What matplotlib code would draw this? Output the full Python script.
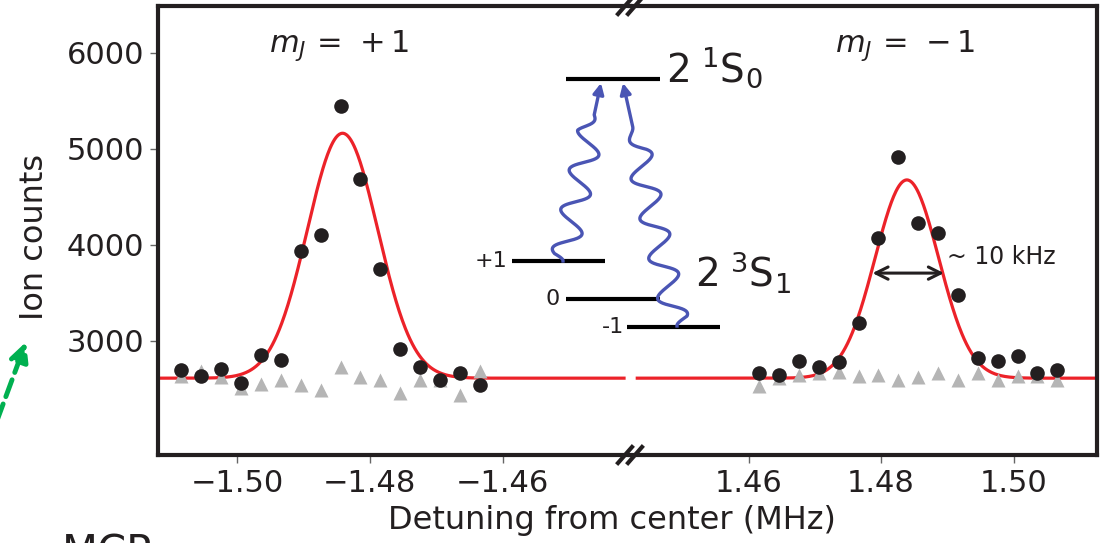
import matplotlib.pyplot as plt
import numpy as np

# ---- data (detuning in MHz, ion counts) ----
x_plus = [-1.5084, -1.5054, -1.5024, -1.4994, -1.4964, -1.4934, -1.4904, -1.4874,
          -1.4844, -1.4814, -1.4784, -1.4754, -1.4724, -1.4694, -1.4664, -1.4634]
counts_plus = [2699, 2629, 2706, 2560, 2854, 2795, 3939, 4102,
               5443, 4687, 3745, 2914, 2722, 2595, 2664, 2543]
bg_plus = [2630, 2681, 2619, 2508, 2553, 2595, 2543, 2483,
           2727, 2619, 2588, 2456, 2595, 2595, 2439, 2681]

x_minus = [1.4616, 1.4646, 1.4676, 1.4706, 1.4736, 1.4766, 1.4796, 1.4826,
           1.4856, 1.4886, 1.4916, 1.4946, 1.4976, 1.5006, 1.5036, 1.5066]
counts_minus = [2664, 2639, 2792, 2722, 2779, 3184, 4074, 4910,
                4224, 4120, 3471, 2820, 2792, 2837, 2664, 2699]
bg_minus = [2525, 2612, 2647, 2664, 2670, 2629, 2639, 2595,
            2622, 2664, 2595, 2664, 2595, 2629, 2636, 2595]

# gaussian fits: (offset, amplitude, centre, sigma)
fit_plus = (2610, 2550, -1.4841, 0.0053)
fit_minus = (2610, 2064, 1.4839, 0.0048)

xticks_plus = [-1.50, -1.48, -1.46]
xticks_minus = [1.46, 1.48, 1.50]
yticks = [3000, 4000, 5000, 6000]

DARK = '#231f20'
RED = '#ec2229'
GRAY = '#b5b5b5'
BLUE = '#4a55b4'


def gauss(x, off, amp, x0, sig):
    return off + amp*np.exp(-(x - x0)**2/(2*sig**2))


def wavy(p0, p1, periods, amp, frac=0.82):
    t = np.linspace(0, 1, 600)
    p0, p1 = np.array(p0, float), np.array(p1, float)
    d = p1 - p0
    u = d/np.hypot(*d)
    nrm = np.array([-u[1], u[0]])
    env = np.clip(t/0.03, 0, 1)*np.clip((frac - t)/0.1, 0, 1)
    off = amp*np.sin(2*np.pi*periods*t/frac)*env
    return p0 + np.outer(t, d) + np.outer(off, nrm)


plt.rcParams['font.family'] = 'DejaVu Sans'
fig = plt.figure(figsize=(11.02, 5.43), dpi=100)
W, H = 1102, 543
x_left, x_break, x_right = 158/W, 630/W, 1097/W
y_bot, y_top = 1 - 455/H, 1 - 6/H
ax1 = fig.add_axes([x_left, y_bot, x_break - x_left, y_top - y_bot])
ax2 = fig.add_axes([x_break, y_bot, x_right - x_break, y_top - y_bot])

ylim = (1810, 6485)
ax1.set_xlim(-1.5119, -1.4408)
ax2.set_xlim(1.4421, 1.5126)

for ax, xs, ys, bg, fit, xt, lim in [
        (ax1, x_plus, counts_plus, bg_plus, fit_plus, xticks_plus, (-1.5119, -1.4417)),
        (ax2, x_minus, counts_minus, bg_minus, fit_minus, xticks_minus, (1.4432, 1.5126))]:
    xf = np.linspace(lim[0], lim[1], 600)
    ax.plot(xf, gauss(xf, *fit), color=RED, lw=2.3, zorder=2)
    ax.plot(xs, bg, '^', color=GRAY, ms=10, mec='none', zorder=3)
    ax.plot(xs, ys, 'o', color=DARK, ms=10.5, mec='none', zorder=4)
    ax.set_ylim(*ylim)
    ax.set_xticks(xt)
    ax.set_xticklabels(['%.2f' % v if v > 0 else '\u2212%.2f' % abs(v) for v in xt])
    for s in ax.spines.values():
        s.set_linewidth(3)
        s.set_color(DARK)
    ax.tick_params(axis='both', direction='out', length=6, width=1, color='#666666',
                   labelsize=22, labelcolor=DARK, pad=4)

ax1.spines['right'].set_visible(False)
ax2.spines['left'].set_visible(False)
ax1.set_yticks(yticks)
ax2.set_yticks([])

ax1.text(0.383, 0.913, r'$m_J\,=\,+1$', transform=ax1.transAxes, fontsize=22,
         ha='center', va='center', color=DARK)
ax2.text(0.589, 0.913, r'$m_J\,=\,-1$', transform=ax2.transAxes, fontsize=22,
         ha='center', va='center', color=DARK)

# FWHM arrow
ax2.annotate('', xy=(1.4787, 3704), xytext=(1.4895, 3704),
             arrowprops=dict(arrowstyle='<->', color=DARK, lw=2.2, mutation_scale=22,
                             shrinkA=0, shrinkB=0), zorder=5)
ax2.text(1.4900, 3870, '~ 10 kHz', fontsize=17, color=DARK, ha='left', va='center')

fig.text(35/W, 1 - 237/H, 'Ion counts', rotation=90, fontsize=23, ha='center',
         va='center', color=DARK)
fig.text(612/W, 1 - 520/H, 'Detuning from center (MHz)', fontsize=23, ha='center',
         va='center', color=DARK)
fig.text(62/W, 1 - 533/H, 'MCP', fontsize=30, ha='left', va='top', color=DARK)

# overlay in pixel units for the level scheme and break marks
ov = fig.add_axes([0, 0, 1, 1], zorder=10)
ov.set_xlim(0, W)
ov.set_ylim(H, 0)
ov.axis('off')

# energy levels
ov.plot([566, 660], [79, 79], color='black', lw=3, solid_capstyle='butt')
ov.plot([512, 605], [261, 261], color='black', lw=3, solid_capstyle='butt')
ov.plot([566, 660], [299, 299], color='black', lw=3, solid_capstyle='butt')
ov.plot([627, 720], [327, 327], color='black', lw=3, solid_capstyle='butt')
ov.text(507, 261, '+1', fontsize=16, ha='right', va='center', color=DARK)
ov.text(560, 299, '0', fontsize=16, ha='right', va='center', color=DARK)
ov.text(624, 327, '-1', fontsize=16, ha='right', va='center', color=DARK)
ov.text(666, 68, r'$\mathregular{2\;{}^{1}S_{0}}$', fontsize=28, ha='left', va='center',
        color=DARK)
ov.text(695, 272, r'$\mathregular{2\;{}^{3}S_{1}}$', fontsize=28, ha='left', va='center',
        color=DARK)

for p0, p1, nper, amp in [((563, 261), (601, 83), 3.7, -13),
                          ((677, 326), (623, 83), 5.0, 13)]:
    pts = wavy(p0, p1, nper, amp)
    ov.plot(pts[:-20, 0], pts[:-20, 1], color=BLUE, lw=2.4)
    ov.annotate('', xy=pts[-1], xytext=pts[-30],
                arrowprops=dict(arrowstyle='-|>', color=BLUE, lw=2.4, mutation_scale=16,
                                shrinkA=0, shrinkB=0))

# axis break marks
for yb in (6, 455):
    for dx in (-5, 5):
        ov.plot([x_break*W + dx - 7, x_break*W + dx + 7], [yb + 8, yb - 8],
                color=DARK, lw=3, clip_on=False)

# green dashed arrow at the left edge
ov.annotate('', xy=(26, 342), xytext=(-12, 445),
            arrowprops=dict(arrowstyle='-|>', color='#00b050', lw=3.5, linestyle='--',
                            mutation_scale=28, shrinkA=0, shrinkB=0),
            annotation_clip=False)

plt.savefig('out.png', dpi=100)
